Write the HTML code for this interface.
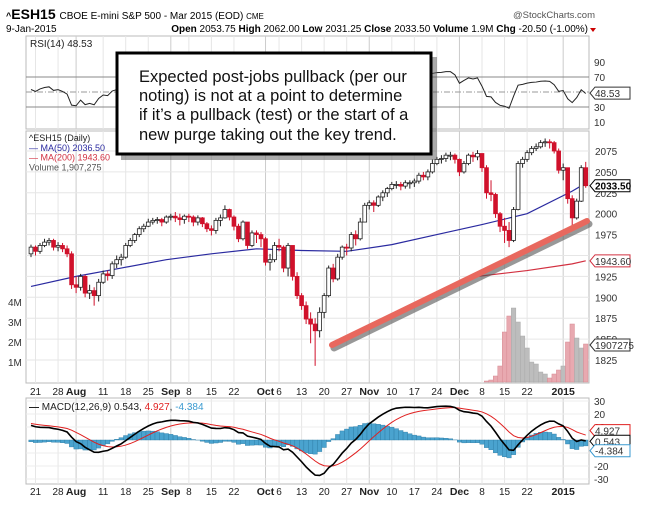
<!DOCTYPE html>
<html><head><meta charset="utf-8">
<style>
html,body{margin:0;padding:0;background:#fff;}
svg{display:block;font-family:"Liberation Sans",sans-serif;}
</style></head>
<body>
<svg id="chart" width="651" height="513" viewBox="0 0 651 513" xmlns="http://www.w3.org/2000/svg">
<rect width="651" height="513" fill="#fff"/>
<g>
<text x="6" y="19" font-size="14" font-weight="bold"><tspan font-size="9">^</tspan>ESH15 <tspan font-size="10" font-weight="normal">CBOE E-mini S&amp;P 500 - Mar 2015 (EOD) <tspan font-size="8">CME</tspan></tspan></text>
<text x="595" y="18" font-size="9.5" text-anchor="end" fill="#555">@StockCharts.com</text>
<text x="6" y="32" font-size="10">9-Jan-2015</text>
<text x="588" y="32" font-size="10" text-anchor="end"><tspan font-weight="bold">Open</tspan> 2053.75 <tspan font-weight="bold">High</tspan> 2062.00 <tspan font-weight="bold">Low</tspan> 2031.25 <tspan font-weight="bold">Close</tspan> 2033.50 <tspan font-weight="bold">Volume</tspan> 1.9M <tspan font-weight="bold">Chg</tspan> -20.50 (-1.00%)</text>
<path d="M590 28 l6 0 l-3 4 z" fill="#c00"/>
</g>
<g id="rsi"></g>
<g id="main"></g>
<g id="macd"></g>
<g>
<rect x="121" y="57" width="316" height="103" fill="#555" opacity="0.5"/>
<rect x="117" y="53" width="314" height="101" fill="#fff" stroke="#000" stroke-width="3"/>
<text font-size="16.5" fill="#111">
<tspan x="139" y="82">Expected post-jobs pullback (per our</tspan>
<tspan x="139" y="101">noting) is not at a point to determine</tspan>
<tspan x="139" y="120">if it’s a pullback (test) or the start of a</tspan>
<tspan x="139" y="140">new purge taking out the key trend.</tspan>
</text>
</g>
</svg>
<script>
const closes=[1960,1955,1962,1966,1968,1960,1962,1958,1952,1915,1912,1925,1905,1908,1902,1918,1928,1926,1940,1945,1948,1962,1968,1975,1982,1985,1990,1992,1993,1990,1996,1997,1995,1993,1997,1996,1990,1995,1988,1982,1980,1992,1995,2005,1996,1985,1970,1990,1962,1977,1975,1970,1942,1945,1962,1960,1935,1962,1925,1902,1890,1874,1868,1860,1882,1902,1935,1922,1948,1960,1959,1975,1970,1990,2010,2013,2010,2020,2025,2030,2035,2035,2033,2037,2037,2039,2046,2044,2050,2060,2065,2066,2070,2070,2065,2050,2060,2070,2068,2072,2055,2025,2023,2000,1985,1980,1968,2005,2060,2065,2073,2078,2080,2085,2086,2085,2075,2052,2055,2018,1995,2015,2055,2033.5];
const highs=[1963,1962,1965,1970,1971,1970,1966,1965,1962,1955,1925,1928,1927,1915,1912,1922,1932,1932,1943,1950,1952,1965,1971,1977,1985,1988,1994,1995,1996,1995,1998,2000,2002,2000,1999,2000,1998,1998,1996,1990,1986,1995,1999,2010,2006,1998,1988,1992,1990,1980,1980,1978,1972,1952,1966,1970,1962,1965,1962,1930,1905,1895,1882,1875,1888,1905,1938,1940,1952,1962,1964,1978,1980,1995,2013,2016,2016,2022,2028,2032,2038,2039,2038,2040,2040,2042,2049,2050,2053,2065,2068,2070,2073,2074,2072,2066,2063,2072,2074,2076,2072,2058,2040,2025,2002,1995,1990,2008,2063,2068,2076,2081,2084,2088,2090,2089,2087,2078,2060,2055,2022,2018,2058,2062];
const lows=[1948,1950,1952,1960,1962,1956,1955,1954,1948,1910,1905,1908,1900,1898,1890,1895,1916,1920,1922,1935,1938,1946,1960,1965,1972,1978,1984,1987,1988,1985,1988,1992,1990,1986,1988,1990,1985,1986,1984,1978,1974,1976,1985,1994,1992,1980,1966,1968,1958,1960,1965,1960,1938,1932,1942,1955,1930,1925,1920,1898,1885,1868,1845,1818,1852,1875,1900,1918,1920,1945,1950,1955,1962,1968,1990,2005,2002,2008,2015,2020,2028,2030,2028,2030,2030,2032,2036,2040,2040,2048,2058,2060,2062,2064,2060,2045,2048,2058,2062,2064,2050,2018,2015,1995,1978,1965,1960,1966,2004,2055,2062,2070,2075,2078,2080,2078,2072,2048,2040,2012,1985,1993,2014,2031];
const firstOpen=1952;
const ma50Idx=[0,10,20,30,40,50,60,70,80,90,100,110,120,123];
const ma50Vals=[1913,1925,1935,1945,1952,1958,1956,1955,1963,1975,1987,2000,2027,2036.5];
const ma200Idx=[99,110,120,123];
const ma200Vals=[1925,1932,1940,1943.6];
const volStart=100;
const volumeM=[0,0.05,0.1,0.3,0.8,2.5,3.3,3.7,3.0,2.3,1.7,1.0,0.9,0.5,0.4,0.2,0.4,0.6,0.8,2.0,2.9,2.2,1.7,1.9];
const xTickIdx=[1,6,10,16,21,26,31,35,40,45,52,55,60,65,70,75,80,85,90,95,100,105,110,118];
const xTickLabels=["21","28","Aug","11","18","25","Sep","8","15","22","Oct","6","13","20","27","Nov","10","17","24","Dec","8","15","22","2015"];
const xTickBold=[0,0,1,0,0,0,1,0,0,0,1,0,0,0,0,1,0,0,0,1,0,0,0,1];
const priceTicks=[2075,2050,2025,2000,1975,1925,1900,1875,1850,1825];
const volTicks=[1,2,3,4];
const rsiTicks=[90,70,30,10];
const macdTicks=[30,20,10,-10,-20,-30];
const macdSeed={ema12:1958,ema26:1946,signal:13};

const NS="http://www.w3.org/2000/svg";
function mk(parent,tag,attrs){const e=document.createElementNS(NS,tag);for(const k in attrs)e.setAttribute(k,attrs[k]);parent.appendChild(e);return e;}
const L=26,R=589;
const x=i=>31+i*4.51;
const py=p=>151+(2075-p)*0.836;
const vy=v=>382-v*20;
const ry=v=>129.5-v*0.75;
const my=v=>440-v*1.3;
const opens=closes.map((c,i)=>i===0?firstOpen:closes[i-1]);

function grid(g,top,bot){
  xTickIdx.forEach((idx,k)=>{
    const ln=mk(g,'line',{x1:x(idx),x2:x(idx),y1:top,y2:bot,stroke:xTickBold[k]?'#ccc':'#e6e6e6','stroke-width':1});
    
    
  });
}
function xLabels(g,y){
  xTickIdx.forEach((idx,k)=>{
    const t=mk(g,'text',{x:x(idx),y:y,'font-size':xTickBold[k]?10.5:10,'font-weight':xTickBold[k]?'bold':'normal','text-anchor':'middle',fill:'#222'});
    t.textContent=xTickLabels[k];
    
    
  });
}
function tag(g,yv,text,color,bold){
  const r=mk(g,'path',{d:`M590 ${yv} l5 -6 h35 v12 h-35 z`,fill:'#fff',stroke:color,'stroke-width':1});
  
  
  const t=mk(g,'text',{x:595,y:yv+4,'font-size':10,fill:bold?'#000':'#333','font-weight':bold?'bold':'normal'});
  t.textContent=text;
  
  
}

// RSI
(function(){
  const g=document.getElementById('rsi');
  mk(g,'rect',{x:L,y:36,width:R-L,height:93,fill:'#fff',stroke:'#bbb'});
  grid(g,36,129);
  [70,30].forEach(v=>{const l=mk(g,'line',{x1:L,x2:R,y1:ry(v),y2:ry(v),stroke:'#888'});});
  const mid=mk(g,'line',{x1:L,x2:R,y1:ry(50),y2:ry(50),stroke:'#999','stroke-dasharray':'6,2,1,2'});
  
  rsiTicks.forEach(v=>{const t=mk(g,'text',{x:594,y:ry(v)+4,'font-size':10,fill:'#333'});t.textContent=v;});
  let ag=4,al=3.5;const pts=[];
  closes.forEach((c,i)=>{if(i>0){const d=c-closes[i-1];ag=(ag*13+Math.max(d,0))/14;al=(al*13+Math.max(-d,0))/14;}
    const rsi=100-100/(1+ag/al);pts.push(x(i)+','+ry(rsi));});
  const pl=mk(g,'polyline',{points:pts.join(' '),fill:'none',stroke:'#222','stroke-width':1});
  
  const t=mk(g,'text',{x:30,y:47,'font-size':10,fill:'#222'});t.textContent='RSI(14) 48.53';
  
  tag(g,ry(48.53),'48.53','#333',false);
})();

// Main
(function(){
  const g=document.getElementById('main');
  mk(g,'rect',{x:L,y:131,width:R-L,height:252,fill:'#fff',stroke:'#bbb'});
  grid(g,131,383);
  priceTicks.concat([1950]).forEach(p=>{const l=mk(g,'line',{x1:L,x2:R,y1:py(p),y2:py(p),stroke:'#e6e6e6'});});
  priceTicks.forEach(p=>{const t=mk(g,'text',{x:595,y:py(p)+4,'font-size':10,fill:'#333'});t.textContent=p;});
  volTicks.forEach(v=>{const t=mk(g,'text',{x:8,y:vy(v)+4,'font-size':10,fill:'#333'});t.textContent=v+'M';});
  volumeM.forEach((v,k)=>{const i=volStart+k;const down=closes[i]<opens[i];
    const b=mk(g,'rect',{x:x(i)-2.25,y:vy(v),width:4.5,height:v*20,fill:down?'#e8a9b0':'#bdbdbd',stroke:down?'#d88a93':'#a9a9a9','stroke-width':0.5});
    });
  const ma50=mk(g,'polyline',{points:ma50Idx.map((i,k)=>x(i)+','+py(ma50Vals[k])).join(' '),fill:'none',stroke:'#2a2aa0','stroke-width':1.2});
  
  const ma200=mk(g,'polyline',{points:ma200Idx.map((i,k)=>x(i)+','+py(ma200Vals[k])).join(' '),fill:'none',stroke:'#d23040','stroke-width':1.2});
  
  closes.forEach((c,i)=>{const o=opens[i];const down=c<o;const cx=x(i);
    const w=mk(g,'line',{x1:cx,x2:cx,y1:py(highs[i]),y2:py(lows[i]),stroke:down?'#d0112b':'#222','stroke-width':1});
    
    const top=py(Math.max(o,c)),bh=Math.max(1,Math.abs(py(o)-py(c)));
    const b=mk(g,'rect',{x:cx-1.9,y:top,width:3.8,height:bh,fill:down?'#d0112b':'#fff',stroke:down?'#d0112b':'#222','stroke-width':0.8});
    });
  const sh=mk(g,'line',{x1:334,y1:348,x2:589,y2:224,stroke:'#555','stroke-width':7,'stroke-linecap':'round',opacity:0.6});
  
  const tl=mk(g,'line',{x1:332,y1:345,x2:587,y2:221,stroke:'#e8685e','stroke-width':6,'stroke-linecap':'round'});
  
  const leg=[['^ESH15 (Daily)','#222'],['MA(50) 2036.50','#2a2aa0'],['MA(200) 1943.60','#d23040'],['Volume 1,907,275','#555']];
  leg.forEach((l,k)=>{const t=mk(g,'text',{x:29,y:141+k*9.8,'font-size':9,fill:l[1]});t.textContent=(k===1||k===2?'— ':'')+l[0];
    });
  tag(g,py(2033.5),'2033.50','#000',true);
  tag(g,py(1943.6),'1943.60','#d23040',false);
  tag(g,345,'1907275','#333',false);
  const xl=document.createElementNS(NS,'g');g.appendChild(xl);xLabels(xl,395);
})();

// MACD
(function(){
  const g=document.getElementById('macd');
  mk(g,'rect',{x:L,y:398,width:R-L,height:86,fill:'#fff',stroke:'#bbb'});
  grid(g,398,484);
  macdTicks.forEach(v=>{const l=mk(g,'line',{x1:L,x2:R,y1:my(v),y2:my(v),stroke:'#ececec'});
    const t=mk(g,'text',{x:594,y:my(v)+4,'font-size':10,fill:'#333'});t.textContent=v;});
  let e12=macdSeed.ema12,e26=macdSeed.ema26,sig=macdSeed.signal;const m=[],s=[];
  closes.forEach(c=>{e12+=(c-e12)*2/13;e26+=(c-e26)*2/27;const mv=e12-e26;sig+=(mv-sig)*0.2;m.push(mv);s.push(sig);});
  m.forEach((mv,i)=>{const h=mv-s[i];const b=mk(g,'rect',{x:x(i)-2.25,y:Math.min(my(0),my(h)),width:4.5,height:Math.abs(my(h)-my(0)),fill:'#4aa3cf',stroke:'#2b7aa3','stroke-width':0.4});
    });
  const sl=mk(g,'polyline',{points:s.map((v,i)=>x(i)+','+my(v)).join(' '),fill:'none',stroke:'#e02020','stroke-width':1});
  
  const ml=mk(g,'polyline',{points:m.map((v,i)=>x(i)+','+my(v)).join(' '),fill:'none',stroke:'#000','stroke-width':1.6});
  
  const t=mk(g,'text',{x:29,y:410,'font-size':10,fill:'#222'});
  t.innerHTML='<tspan font-weight="bold">—</tspan> MACD(12,26,9) 0.543, <tspan fill="#e02020">4.927</tspan>, <tspan fill="#3a9ad0">-4.384</tspan>';
  
  tag(g,my(4.927)-3,'4.927','#e02020',false);
  tag(g,my(0.543)+2,'0.543','#000',false);
  tag(g,my(-4.384)+5,'-4.384','#3a9ad0',false);
  const xl=document.createElementNS(NS,'g');g.appendChild(xl);xLabels(xl,495);
})();
</script>
</body></html>
